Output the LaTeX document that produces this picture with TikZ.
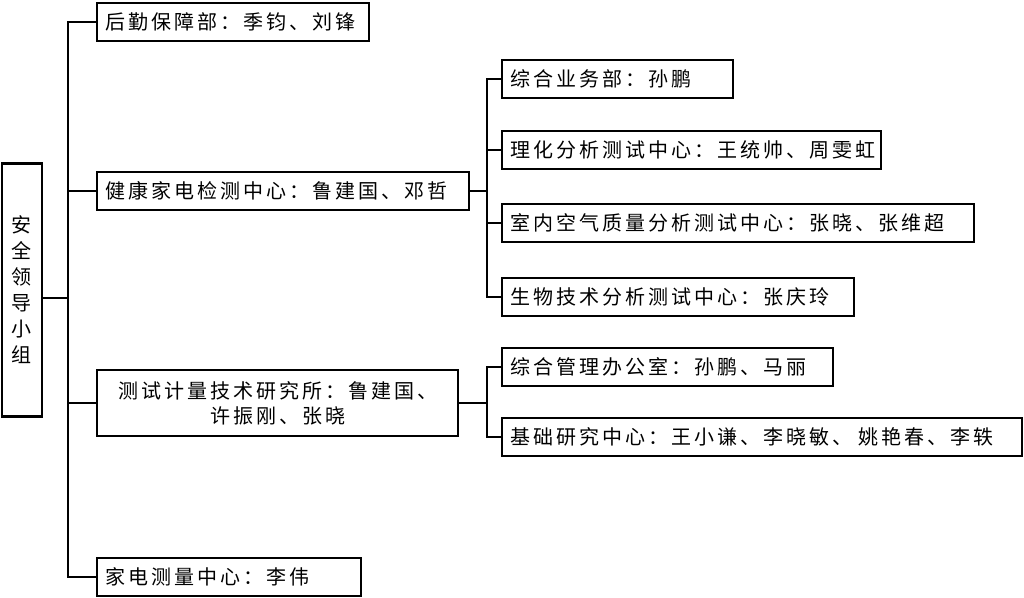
\documentclass[tikz,border=0pt]{standalone}
\usepackage{fontspec}
\newfontfamily\cjk[LetterSpace=15]{Noto Sans CJK SC}
\begin{document}
\begin{tikzpicture}[x=1pt,y=-1pt,line width=2.2pt,
  bx/.style 2 args={draw,line width=2.2pt,font=\cjk\fontsize{20}{25}\selectfont,inner xsep=8pt,inner ysep=0pt,anchor=west,minimum height=38pt,text width=#1pt-16pt,align=#2},
  ln/.style={line width=2.2pt}]
\useasboundingbox (0,0) rectangle (1024,597);
\node[draw,line width=2.2pt,minimum width=40pt,minimum height=253pt,font=\cjk\fontsize{20}{26}\selectfont,align=center,inner sep=0pt] (root) at (22,290) {安\\全\\领\\导\\小\\组};
\node[bx={272}{left}] (a) at (96,22) {后勤保障部：季钧、刘锋};
\node[bx={372}{left}] (b) at (96,191) {健康家电检测中心：鲁建国、邓哲};
\node[bx={361}{center},minimum height=66pt] (c) at (96,403) {测试计量技术研究所：鲁建国、\\许振刚、张晓};
\node[bx={264}{left}] (d) at (96,577) {家电测量中心：李伟};
\node[bx={231}{left}] (b1) at (501,79) {综合业务部：孙鹏};
\node[bx={379}{left}] (b2) at (501,150) {理化分析测试中心：王统帅、周雯虹};
\node[bx={472}{left}] (b3) at (501,223) {室内空气质量分析测试中心：张晓、张维超};
\node[bx={352}{left}] (b4) at (501,297) {生物技术分析测试中心：张庆玲};
\node[bx={331}{left}] (c1) at (501,367) {综合管理办公室：孙鹏、马丽};
\node[bx={520}{left}] (c2) at (501,437) {基础研究中心：王小谦、李晓敏、 姚艳春、李轶};
\coordinate (t) at (68,298);
\draw[ln] (root.east |- t) -- (t);
\draw[ln] (a.west) -| (68,298) |- (d.west);
\draw[ln] (b.west) -- (68,191);
\draw[ln] (c.west) -- (68,403);
\draw[ln] (b.east) -- (487,191);
\draw[ln] (b1.west) -| (487,191) |- (b4.west);
\draw[ln] (b2.west) -- (487,150);
\draw[ln] (b3.west) -- (487,223);
\draw[ln] (c.east) -- (487,403);
\draw[ln] (c1.west) -| (487,403) |- (c2.west);
\end{tikzpicture}
\end{document}
